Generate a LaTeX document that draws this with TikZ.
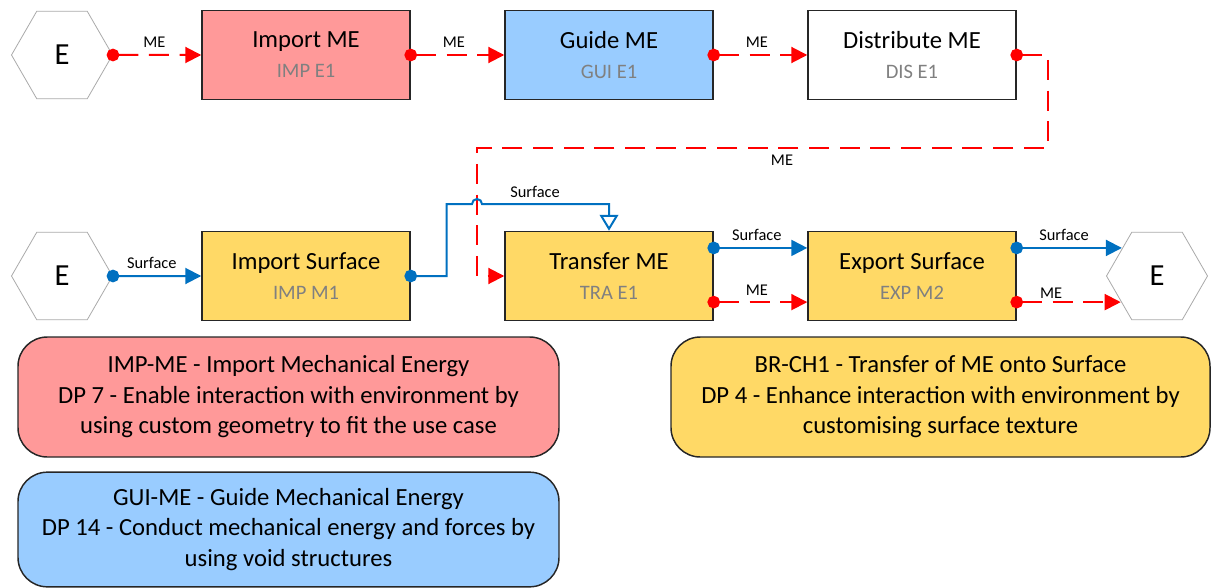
\documentclass[tikz,border=0pt]{standalone}
\usepackage{fontspec}
\setmainfont{Carlito}
\usepackage{tikz}
\usetikzlibrary{positioning,arrows.meta,calc,shapes.geometric}
\usepackage{xcolor}
\definecolor{mered}{RGB}{255,0,0}
\definecolor{surfblue}{RGB}{0,112,192}
\definecolor{impred}{RGB}{255,153,153}
\definecolor{guiblue}{RGB}{153,204,255}
\definecolor{brchyellow}{RGB}{255,217,102}
\definecolor{subgray}{RGB}{128,128,128}
\definecolor{hexgray}{RGB}{170,170,170}
\definecolor{boxline}{RGB}{38,38,38}
\newcommand{\fnsub}[1]{{\fontsize{15.4}{22.5}\selectfont\color{subgray}#1}}

\begin{document}
\begin{tikzpicture}[
  x=0.75pt,y=-0.75pt,
  fnbox/.style={draw=boxline,line width=1.1pt,minimum width=156pt,minimum height=66.75pt,inner sep=0pt,align=center,font=\fontsize{18.5}{22.5}\selectfont},
  envhex/.style={regular polygon,regular polygon sides=6,draw=hexgray,line width=0.6pt,fill=white,minimum size=75.75pt,inner sep=0pt,font=\fontsize{23}{27}\selectfont},
  notebox/.style={draw=boxline,line width=1.1pt,rounded corners=22pt,minimum width=405.75pt,minimum height=90pt,inner sep=0pt,align=center,font=\fontsize{18.5}{22.9}\selectfont},
  lbl/.style={text=black,font=\fontsize{12.3}{14}\selectfont,inner sep=1pt},
  mearrow/.style={mered,line width=1.5pt,dash pattern=on 15pt off 8pt,{Circle[length=9.5pt]}-{Triangle[length=12pt,width=12pt]},shorten <=-4.75pt},
  surfarrow/.style={surfblue,line width=1.5pt,{Circle[length=9.5pt]}-{Triangle[length=12pt,width=12pt]},shorten <=-4.75pt},
  surfopen/.style={surfblue,line width=1.5pt,{Circle[length=9.5pt]}-{Triangle[open,length=12pt,width=14pt,fill=white]},shorten <=-4.75pt}
]
\useasboundingbox (0,0) rectangle (1213,588);

% TOP: energy chain
\node[envhex] (envin) at (62,55) {E};
\node[fnbox,fill=impred] (imp) at (306,55) {Import ME\\\fnsub{IMP E1}};
\node[fnbox,fill=guiblue] (gui) at (609,55) {Guide ME\\\fnsub{GUI E1}};
\node[fnbox,fill=white] (dis) at (912,55) {Distribute ME\\\fnsub{DIS E1}};
\draw[mearrow] (envin.east) -- node[lbl,above=4pt,pos=0.47] {ME} (imp.west);
\draw[mearrow] (imp.east) -- node[lbl,above=4pt,pos=0.46] {ME} (gui.west);
\draw[mearrow] (gui.east) -- node[lbl,above=4pt,pos=0.46] {ME} (dis.west);

% BOTTOM: surface chain
\node[envhex] (envsurf) at (62,276) {E};
\node[fnbox,fill=brchyellow] (isurf) at (306,276) {Import Surface\\\fnsub{IMP M1}};
\node[fnbox,fill=brchyellow] (tra) at (609,276) {Transfer ME\\\fnsub{TRA E1}};
\node[fnbox,fill=brchyellow] (exp) at (912,276) {Export Surface\\\fnsub{EXP M2}};
\node[envhex] (envout) at (1157,276) {E};
\draw[surfarrow] (envsurf.east) -- node[lbl,above=3.5pt,pos=0.44] {Surface} (isurf.west);

% ME loop back down and surface feed with hop
\coordinate (hop) at (477,204);
\draw[mearrow] (dis.east) -- ++(31,0) |- (477,148) |- (tra.west);
\node[lbl] (lblme) at (782,160) {ME};
\draw[surfopen] (isurf.east) -- ++(36,0) |- ($(hop)+(-5,0)$) arc[start angle=180,end angle=0,radius=3.75pt] -| (tra.north);
\node[lbl] (lblsurf) at (535,192) {Surface};

% outputs
\draw[surfarrow] (tra.15) -- node[lbl,above=3.5pt,pos=0.46] {Surface} (exp.west |- tra.15);
\draw[mearrow] (tra.-14) -- node[lbl,above=3pt,pos=0.46] {ME} (exp.west |- tra.-14);
\draw[surfarrow] (exp.15) -- node[lbl,above=3.5pt,pos=0.45] {Surface} (exp.15 -| envout.142);
\draw[mearrow] (exp.-14) -- node[lbl,above=1pt,pos=0.33] {ME} (exp.-14 -| envout.215);

% NOTES
\node[notebox,fill=impred] (noteimp) at (288.5,397) {IMP-ME - Import Mechanical Energy\\DP 7 - Enable interaction with environment by\\using custom geometry to fit the use case};
\node[notebox,fill=guiblue,minimum height=86pt] (notegui) at (288.5,529.5) {GUI-ME - Guide Mechanical Energy\\DP 14 - Conduct mechanical energy and forces by\\using void structures};
\node[notebox,fill=brchyellow,minimum width=404.25pt] (notebr) at (940.5,397) {BR-CH1 - Transfer of ME onto Surface\\DP 4 - Enhance interaction with environment by\\customising surface texture};
\end{tikzpicture}
\end{document}
